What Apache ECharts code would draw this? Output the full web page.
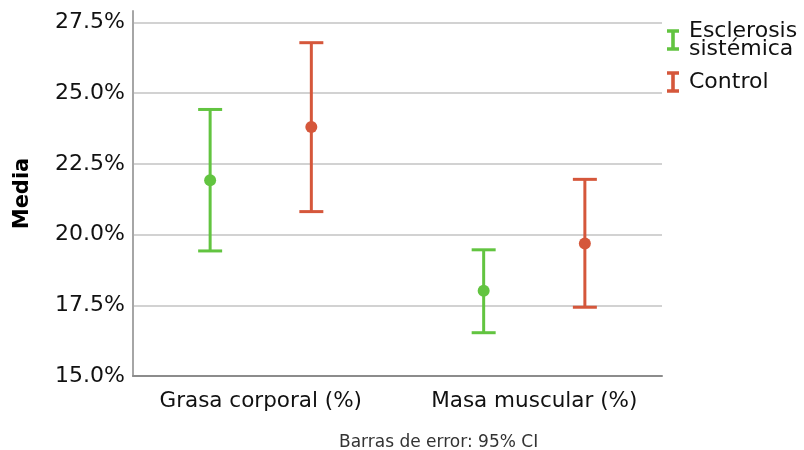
<!DOCTYPE html>
<html>
<head>
<meta charset="utf-8">
<script src="https://cdn.jsdelivr.net/npm/echarts@6/dist/echarts.min.js"></script>
<style>html,body{margin:0;padding:0;background:#fff}#c{width:804px;height:450px}</style>
</head>
<body>
<div id="c"></div>
<script>
var categories = ['Grasa corporal (%)', 'Masa muscular (%)'];
var groups = ['Esclerosis sistémica', 'Control'];
var esMean = [21.92, 18.01];
var esLow = [19.42, 16.53];
var esHigh = [24.42, 19.46];
var ctMean = [23.80, 19.68];
var ctLow = [20.81, 17.43];
var ctHigh = [26.78, 21.95];
var yTicks = [15, 17.5, 20, 22.5, 25, 27.5];

var colors = ['#62c440', '#d5573b'];
var offsets = [-0.185, 0.185];
var FONT = 'DejaVu Sans';

function buildData(mean, low, high) {
  return categories.map(function (c, i) { return [i, mean[i], low[i], high[i]]; });
}

function makeSeries(name, color, offset, data) {
  return {
    type: 'custom',
    name: name,
    itemStyle: { color: color },
    data: data,
    encode: { x: 0, y: [1, 2, 3] },
    renderItem: function (params, api) {
      var x = api.value(0) + offset;
      var pm = api.coord([x, api.value(1)]);
      var pl = api.coord([x, api.value(2)]);
      var ph = api.coord([x, api.value(3)]);
      var hw = 12;
      var st = { stroke: color, lineWidth: 3 };
      return {
        type: 'group',
        children: [
          { type: 'line', shape: { x1: pl[0], y1: pl[1], x2: ph[0], y2: ph[1] }, style: st },
          { type: 'line', shape: { x1: ph[0] - hw, y1: ph[1], x2: ph[0] + hw, y2: ph[1] }, style: st },
          { type: 'line', shape: { x1: pl[0] - hw, y1: pl[1], x2: pl[0] + hw, y2: pl[1] }, style: st },
          { type: 'circle', shape: { cx: pm[0], cy: pm[1], r: 6 }, style: { fill: color } }
        ]
      };
    }
  };
}

var chart = echarts.init(document.getElementById('c'), null, { renderer: 'canvas' });
chart.setOption({
  animation: false,
  backgroundColor: '#fff',
  grid: { left: 133, right: 142, top: 11, bottom: 74, outerBoundsMode: 'none', containLabel: false },
  xAxis: {
    type: 'value',
    min: -0.467,
    max: 1.467,
    axisLine: { show: true, onZero: false, lineStyle: { color: '#8c8c8c', width: 2 } },
    axisTick: { show: false },
    splitLine: { show: false },
    axisLabel: {
      customValues: [0, 1],
      formatter: function (v) { return categories[Math.round(v)]; },
      fontFamily: FONT, fontSize: 21.5, color: '#111', margin: 14
    }
  },
  yAxis: {
    type: 'value',
    min: 15,
    max: 27.9,
    interval: 2.5,
    name: 'Media',
    nameLocation: 'middle',
    nameRotate: 90,
    nameGap: 100,
    nameTextStyle: { fontFamily: FONT, fontWeight: 'bold', fontSize: 21, color: '#000' },
    axisLine: { show: true, onZero: false, lineStyle: { color: '#a6a6a6', width: 2 } },
    axisTick: { show: false },
    splitLine: { show: true, showMinLine: false, showMaxLine: false, lineStyle: { color: '#d2d2d2', width: 2 } },
    axisLabel: {
      customValues: yTicks,
      formatter: function (v) { return v.toFixed(1) + '%'; },
      fontFamily: FONT, fontSize: 22, color: '#111', margin: 8
    }
  },
  legend: {
    orient: 'vertical',
    left: 667,
    top: 20,
    padding: 0,
    itemWidth: 12,
    itemHeight: 22,
    itemGap: 11,
    icon: 'path://M0,0H10V3H6.5V15H10V18H0V15H3.5V3H0Z',
    data: groups,
    formatter: function (n) { return n.replace(' ', '\n'); },
    textStyle: { fontFamily: FONT, fontSize: 22, color: '#111', lineHeight: 18, padding: [0, 0, 0, 5] }
  },
  graphic: [{
    type: 'text',
    left: 339,
    top: 434,
    style: { text: 'Barras de error: 95% CI', fontFamily: FONT, fontSize: 17, fill: '#333' }
  }],
  series: [
    makeSeries(groups[0], colors[0], offsets[0], buildData(esMean, esLow, esHigh)),
    makeSeries(groups[1], colors[1], offsets[1], buildData(ctMean, ctLow, ctHigh))
  ]
});
</script>
</body>
</html>
